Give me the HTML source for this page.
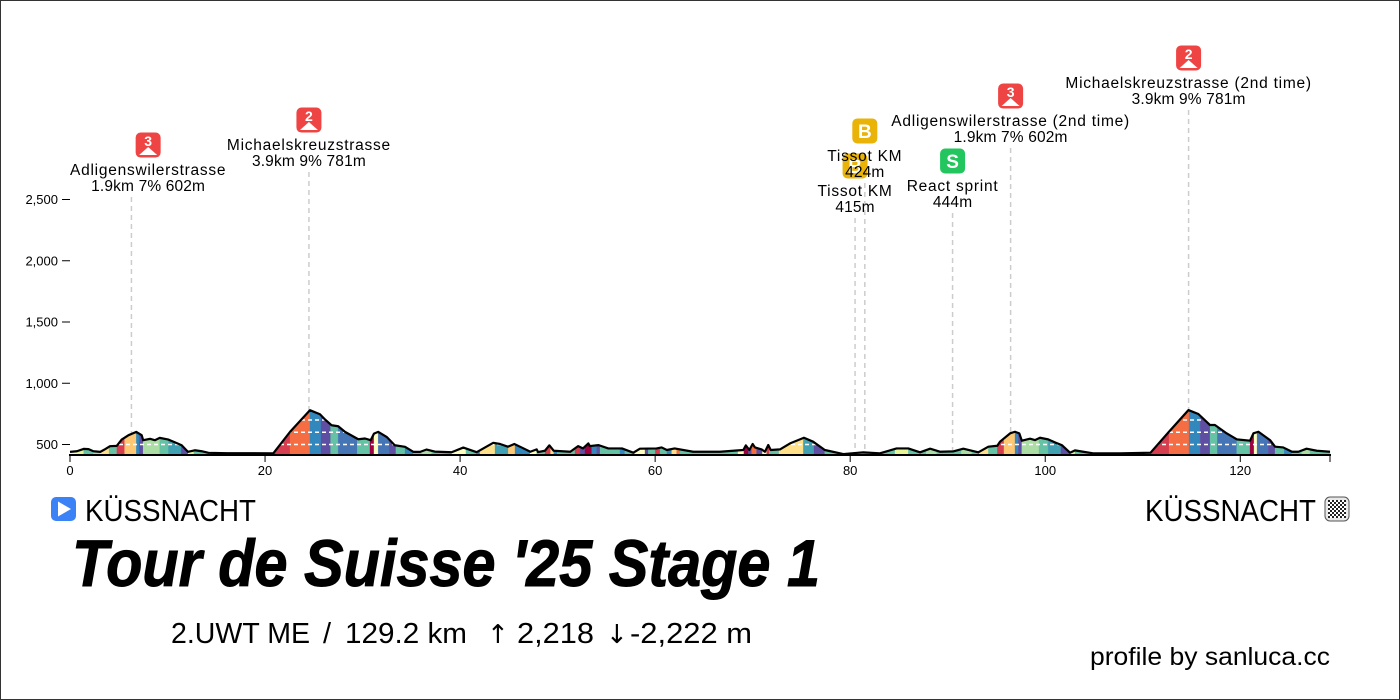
<!DOCTYPE html>
<html lang="en">
<head>
<meta charset="utf-8">
<title>Tour de Suisse '25 Stage 1 profile</title>
<style>
html,body{margin:0;padding:0;background:#fff}
svg{display:block;font-family:"Liberation Sans",sans-serif}
.tick{font-size:13px;fill:#000}
.name{font-size:15.5px;letter-spacing:.75px;fill:#000;text-anchor:middle}
.detail{font-size:15.5px;letter-spacing:.15px;fill:#000;text-anchor:middle}
</style>
</head>
<body>
<svg id="chart" width="1400" height="700" viewBox="0 0 1400 700" xmlns="http://www.w3.org/2000/svg">
  <defs>
    <clipPath id="area-clip"><path id="area-clip-path" d=""></path></clipPath>
    <pattern id="checker" width="4" height="4" patternUnits="userSpaceOnUse">
      <rect width="4" height="4" fill="#fff"></rect>
      <rect width="2" height="2" fill="#222"></rect>
      <rect x="2" y="2" width="2" height="2" fill="#222"></rect>
    </pattern>
  </defs>
  <rect x="0.5" y="0.5" width="1399" height="699" fill="#fff" stroke="#333" stroke-width="1"></rect>
  <g id="markers-lines"></g>
  <g id="segments"></g>
  <g id="elev-guides" clip-path="url(#area-clip)"></g>
  <path id="profile-line" fill="none" stroke="#000" stroke-width="2.2" stroke-linejoin="round"></path>
  <g id="axes"></g>
  <g id="markers-labels"></g>

  <g>
    <rect x="51" y="497" width="25" height="24" rx="5" fill="#3b82f6"></rect>
    <path d="M58 501.5 L71 509 L58 516.5 Z" fill="#fff"></path>
  </g>
  <text x="85" y="521" font-size="31" textLength="171" lengthAdjust="spacingAndGlyphs">KÜSSNACHT</text>
  <text x="1145" y="521" font-size="31" textLength="171" lengthAdjust="spacingAndGlyphs">KÜSSNACHT</text>
  <g>
    <rect x="1325" y="497" width="24" height="24" rx="5" fill="#e8e8e8" stroke="#555" stroke-width="1"></rect>
    <rect x="1328" y="500" width="18" height="18" fill="url(#checker)"></rect>
  </g>
  <text x="72" y="586" font-size="66" font-weight="700" font-style="italic" stroke="#000" stroke-width="1" textLength="748" lengthAdjust="spacingAndGlyphs">Tour de Suisse '25 Stage 1</text>
  <g font-size="29">
    <text x="171" y="643" textLength="139" lengthAdjust="spacingAndGlyphs">2.UWT ME</text>
    <text x="323" y="643">/</text>
    <text x="345" y="643" textLength="122" lengthAdjust="spacingAndGlyphs">129.2 km</text>
    <text x="487" y="643" style="font-family:'DejaVu Sans',sans-serif" font-size="26">↑</text>
    <text x="517" y="643" textLength="77" lengthAdjust="spacingAndGlyphs">2,218</text>
    <text x="606" y="643" style="font-family:'DejaVu Sans',sans-serif" font-size="26">↓</text>
    <text x="630" y="643" textLength="122" lengthAdjust="spacingAndGlyphs">-2,222 m</text>
  </g>
  <text x="1090" y="665" font-size="25" textLength="240" lengthAdjust="spacingAndGlyphs">profile by sanluca.cc</text>
</svg>
<script>
const profileKm = [0,0.7,1.4,1.9,2.4,3.1,3.6,4.1,4.8,5.3,6.0,6.8,7.35,7.5,8.2,8.7,9.2,10.1,10.8,11.45,12.1,12.8,13.5,14.2,16.1,20.85,22.56,24.6,25.63,26.15,26.83,27.5,28.2,29.56,30.25,30.83,31.17,31.6,32.47,33.3,34.35,35.2,35.9,36.57,37.4,39.13,40.33,41.7,43.4,44.1,44.9,45.56,46.3,47.2,47.85,48.0,48.7,49.15,49.6,51.3,52.1,52.6,53.15,53.3,54.2,55.2,56.6,57.76,58.44,60.15,60.67,61.2,62.0,63.9,66.65,68.0,69.04,69.3,69.66,70.0,70.24,70.92,71.26,71.6,71.85,72.8,73.83,75.26,76.2,77.4,79.3,81.35,83.05,84.76,85.96,87.16,88.2,89.2,90.6,91.6,93.14,94.17,95.09,95.36,96.4,96.9,97.34,97.6,98.44,98.95,99.46,100.3,101,101.7,102.54,103.05,103.9,104.9,107.67,110.8,112.63,114.68,115.7,116.9,117.4,118.6,119.64,121,121.35,121.86,123.05,123.57,124.4,125.3,125.96,126.8,127.85,129.2];
const profileElevation = [440,445,464,462,445,440,462,486,489,540,576,603,576,535,546,535,554,540,516,494,440,453,445,432,429,428,603,780,747,704,657,649,603,543,549,535,589,603,562,494,481,440,440,459,442,437,475,437,514,504,482,504,476,441,460,438,449,493,449,441,487,468,509,487,495,468,468,433,466,468,476,455,468,441,441,449,455,493,455,504,476,460,441,496,455,460,509,555,523,455,422,436,428,468,468,436,466,441,444,466,436,482,490,523,591,604,591,531,547,536,555,542,517,495,433,452,441,428,428,433,599,781,749,659,659,591,542,531,591,604,536,482,476,441,441,466,449,441];

const segmentEnds = [
  0.7,1.4,2.4,3.1,4.0,4.8,5.6,6.8,7.1,7.5,
  9.2,10.1,11.4,12.1,12.7,14.2,20.8,22.56,24.6,25.73,
  26.72,27.5,29.46,30.76,31.17,31.6,32.74,33.42,34.35,35.2,
  36.05,37.08,39.13,40.6,41.7,42.04,43.58,44.94,45.63,47.17,
  47.85,48.7,49.28,49.6,49.97,51.78,52.3,52.8,53.5,54,
  54.35,56.4,56.9,57.93,58.96,59.3,60,60.5,61.2,61.7,
  62.2,62.55,68.5,69.1,69.56,69.9,70.4,71,71.43,71.7,
  72.7,75.2,76.29,77.4,84.6,85.96,87.16,87.8,88.87,91.4,
  92.46,93.24,94.17,95.09,95.77,96.9,97.24,97.6,99.36,100.3,
  101.6,102.54,103.05,110.8,112.7,114.75,115.88,116.9,117.65,119.64,
  121,121.41,121.72,122.88,123.57,124.5,125.28,126.3,127.15,129.2
];
const segmentGrades = [
  0.5,-0.5,-3,-1.5,2,-3,8,4,-5,-9,
  -1.5,-3,-4.5,-9,-0.5,-3,-3,8,6,-5,
  -9,-3,-7,-3,11,0.5,-7,-9,-3,-5,
  -3,-1.5,-3,1,-3,-5,2,-4.5,4,-5,
  1,-3,8,2,-5,-3,8,-9,11,-5,
  -9,-3,-5,-3,1,-9,-3,8,-3,-5,
  2,6,-3,1,11,-9,6,-9,1,8,
  -3,2,-4.5,-9,-3,-0.5,-3,-3,-1.5,-3,
  -1.5,-3,2,-3,8,4,-5,-9,-1.5,-3,
  -4.5,-9,-0.5,-3,8,6,-5,-9,-3,-7,
  -3,11,0.5,-7,-9,-3,-5,-3,-1.5,-3
];

const guideElevations = [500,600,700];
const xTicks = [0,20,40,60,80,100,120];
const xTickLabels = ["0","20","40","60","80","100","120"];
const yTicks = [500,1000,1500,2000,2500];
const yTickLabels = ["500","1,000","1,500","2,000","2,500"];
const totalKm = 129.2;

const markerKm = [6.3,24.5,80.5,81.5,90.5,96.45,114.7];
const markerNames = ["Adligenswilerstrasse","Michaelskreuzstrasse","Tissot KM","Tissot KM","React sprint","Adligenswilerstrasse (2nd time)","Michaelskreuzstrasse (2nd time)"];
const markerDetails = ["1.9km 7% 602m","3.9km 9% 781m","415m","424m","444m","1.9km 7% 602m","3.9km 9% 781m"];
const markerGlyphs = ["3","2","B","B","S","3","2"];
const markerKinds = ["climb","climb","bonus","bonus","sprint","climb","climb"];
const markerLabelElevation = [2520,2724,2349,2635,2390,2920,3231];

const NS = "http://www.w3.org/2000/svg";
const xScale = km => 70 + km * (1260 / totalKm);
const yScale = m => 444.5 - (m - 500) * 0.1225;
const baseY = 455;

function make(tag, attrs, parent) {
  const el = document.createElementNS(NS, tag);
  for (const k in attrs) el.setAttribute(k, attrs[k]);
  parent.appendChild(el);
  return el;
}
function elevationAt(km) {
  for (let i = 1; i < profileKm.length; i++) {
    if (km <= profileKm[i]) {
      const t = (km - profileKm[i-1]) / (profileKm[i] - profileKm[i-1]);
      return profileElevation[i-1] + t * (profileElevation[i] - profileElevation[i-1]);
    }
  }
  return profileElevation[profileElevation.length - 1];
}
function gradeColor(g) {
  if (g >= 10) return "#9e0142";
  if (g >= 7) return "#d53e4f";
  if (g >= 5) return "#f46d43";
  if (g >= 3) return "#fdc873";
  if (g >= 1.5) return "#fee08b";
  if (g >= 0) return "#ffffbf";
  if (g >= -1) return "#e6f598";
  if (g >= -2) return "#abdda4";
  if (g >= -4) return "#66c2a5";
  if (g >= -4.8) return "#41a0b2";
  if (g >= -6) return "#3288bd";
  if (g >= -8) return "#4575b4";
  return "#5e4fa2";
}

/* gradient-coloured area segments */
const segLayer = document.getElementById("segments");
segmentEnds.forEach((end, i) => {
  const start = i === 0 ? 0 : segmentEnds[i-1];
  let pts = [[xScale(start), baseY], [xScale(start), yScale(elevationAt(start))]];
  profileKm.forEach((km, j) => {
    if (km > start && km < end) pts.push([xScale(km), yScale(profileElevation[j])]);
  });
  pts.push([xScale(end), yScale(elevationAt(end))], [xScale(end), baseY]);
  const el = make("polygon", {points: pts.map(p => p[0].toFixed(2) + "," + p[1].toFixed(2)).join(" "), fill: gradeColor(segmentGrades[i]), stroke: gradeColor(segmentGrades[i]), "stroke-width": 0.3}, segLayer);
  
  
});

/* profile line and clip */
const lineD = profileKm.map((km, i) => (i ? "L" : "M") + xScale(km).toFixed(2) + " " + yScale(profileElevation[i]).toFixed(2)).join(" ");
document.getElementById("profile-line").setAttribute("d", lineD);
document.getElementById("area-clip-path").setAttribute("d", lineD + " L" + xScale(totalKm) + " " + baseY + " L" + xScale(0) + " " + baseY + " Z");

/* white dashed elevation guides */
const guideLayer = document.getElementById("elev-guides");
guideElevations.forEach(m => {
  const el = make("line", {x1: 70, x2: 1330, y1: yScale(m), y2: yScale(m), stroke: "#fff", "stroke-width": 1.4, "stroke-dasharray": "4 3"}, guideLayer);
  
  
});

/* axes */
const axes = document.getElementById("axes");
const xAxisLine = make("line", {x1: 69, x2: 1331, y1: baseY, y2: baseY, stroke: "#000", "stroke-width": 2}, axes);


xTicks.forEach((km, i) => {
  const tick = make("line", {x1: xScale(km), x2: xScale(km), y1: baseY, y2: baseY + 7, stroke: "#000", "stroke-width": 1}, axes);
  
  
  const label = make("text", {x: xScale(km), y: 475, "text-anchor": "middle", class: "tick"}, axes);
  label.textContent = xTickLabels[i];
  
  
});
const endTick = make("line", {x1: xScale(totalKm), x2: xScale(totalKm), y1: baseY, y2: baseY + 7, stroke: "#000", "stroke-width": 1}, axes);


yTicks.forEach((m, i) => {
  const tick = make("line", {x1: 62, x2: 70, y1: yScale(m), y2: yScale(m), stroke: "#000", "stroke-width": 1}, axes);
  
  
  const label = make("text", {x: 58, y: yScale(m) + 4.5, "text-anchor": "end", class: "tick"}, axes);
  label.textContent = yTickLabels[i];
  
  
});

/* markers */
const lineLayer = document.getElementById("markers-lines");
const labelLayer = document.getElementById("markers-labels");
const kindColor = {climb: "#ef4444", bonus: "#eab308", sprint: "#22c55e"};
markerKm.forEach((km, i) => {
  const x = xScale(km);
  const top = yScale(markerLabelElevation[i]);
  const dash = make("line", {x1: x, x2: x, y1: top, y2: yScale(elevationAt(km)), stroke: "#ccc", "stroke-width": 1.5, "stroke-dasharray": "5 4"}, lineLayer);
  
  

  const g = make("g", {}, labelLayer);
  
  
  const name = make("text", {x: x, y: top - 22, class: "name"}, g);
  name.textContent = markerNames[i];
  
  
  const half = name.getComputedTextLength() / 2;
  const cx = Math.max(x, 70 + half);
  name.setAttribute("x", cx);
  const detail = make("text", {x: cx, y: top - 6, class: "detail"}, g);
  detail.textContent = markerDetails[i];
  
  
  const cy = top - 52;
  const badge = make("rect", {x: cx - 12.5, y: cy - 12.5, width: 25, height: 25, rx: 5, fill: kindColor[markerKinds[i]]}, g);
  
  
  const isClimb = markerKinds[i] === "climb";
  const glyph = make("text", {x: cx, y: isClimb ? cy + 1 : cy + 7, "text-anchor": "middle", "font-size": isClimb ? 14 : 19, "font-weight": 700, fill: "#fff"}, g);
  glyph.textContent = markerGlyphs[i];
  
  
  if (isClimb) {
    const peak = make("path", {d: "M" + (cx - 9) + " " + (cy + 10) + " L" + cx + " " + (cy + 2) + " L" + (cx + 9) + " " + (cy + 10) + " Z", fill: "#fff"}, g);
    
    
  }
});
</script>
</body>
</html>
